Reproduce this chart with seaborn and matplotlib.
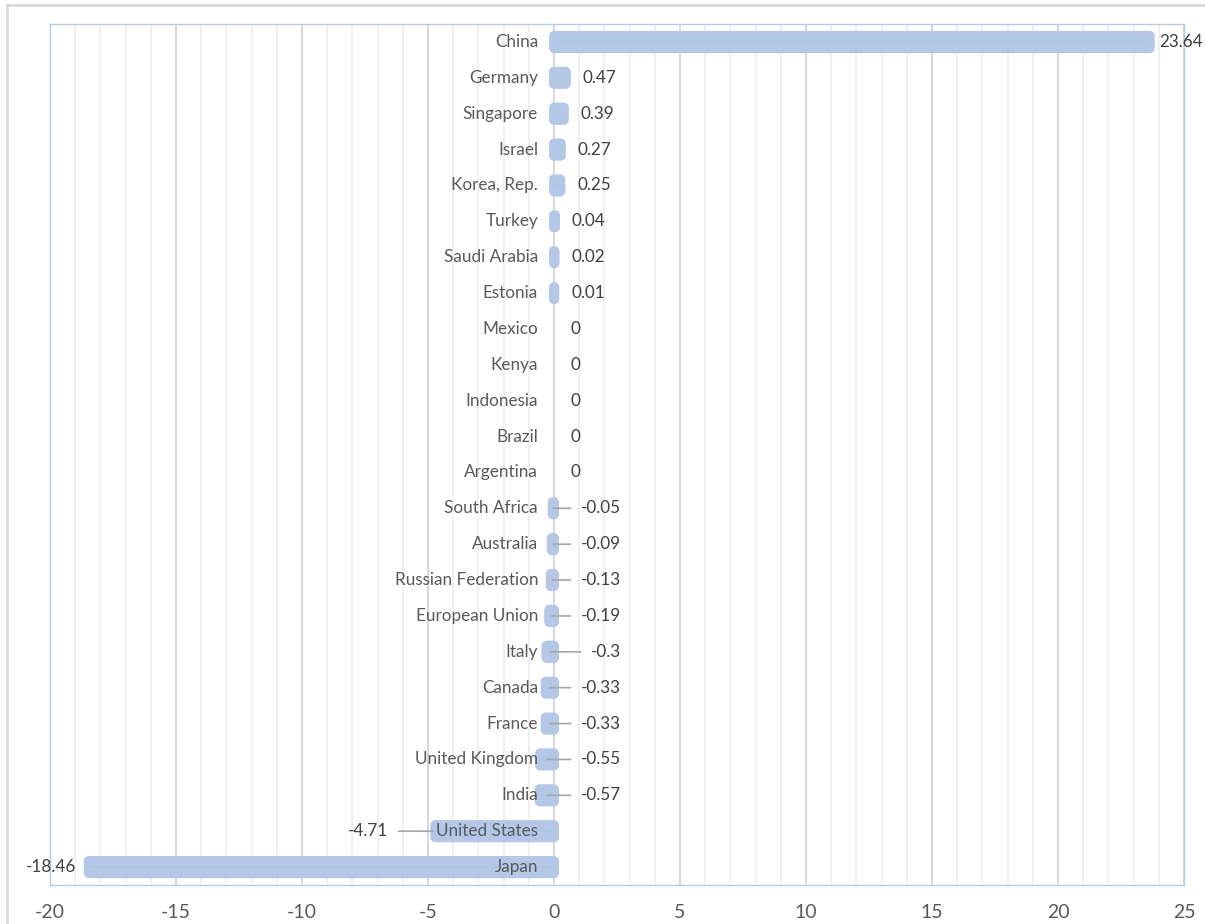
import numpy as np
import pandas as pd
import seaborn as sns
import matplotlib.pyplot as plt
from matplotlib.patches import Rectangle

sns.set_style("white")
plt.rcParams['font.family'] = ['Lato', 'DejaVu Sans']
plt.rcParams['axes.unicode_minus'] = False

countries = ["China", "Germany", "Singapore", "Israel", "Korea, Rep.", "Turkey",
             "Saudi Arabia", "Estonia", "Mexico", "Kenya", "Indonesia", "Brazil",
             "Argentina", "South Africa", "Australia", "Russian Federation",
             "European Union", "Italy", "Canada", "France", "United Kingdom",
             "India", "United States", "Japan"]
values = [23.64, 0.47, 0.39, 0.27, 0.25, 0.04, 0.02, 0.01, 0, 0, 0, 0, 0,
          -0.05, -0.09, -0.13, -0.19, -0.3, -0.33, -0.33, -0.55, -0.57,
          -4.71, -18.46]
value_labels = ["23.64", "0.47", "0.39", "0.27", "0.25", "0.04", "0.02", "0.01",
                "0", "0", "0", "0", "0", "-0.05", "-0.09", "-0.13", "-0.19",
                "-0.3", "-0.33", "-0.33", "-0.55", "-0.57", "-4.71", "-18.46"]

df = pd.DataFrame({"country": countries, "value": values})

bar_color = "#b4c7e7"
text_color = "#404040"
fs = 12.3

fig = plt.figure(figsize=(12.05, 9.24), dpi=100)
ax = fig.add_axes([50 / 1205, 1 - 885 / 924, 1134 / 1205, 861 / 924])

sns.barplot(data=df, x="value", y="country", orient="h", ax=ax,
            color=bar_color, saturation=1, width=0.34, zorder=2)

# rounded look: thick edge with round joins
for patch, v in zip(ax.patches, values):
    patch.set_edgecolor(bar_color)
    patch.set_joinstyle("round")
    patch.set_snap(False)
    patch.set_linewidth(7.2 if v != 0 else 0)

# faint centre line inside the bars
idx = np.arange(len(values))
nz = np.array(values) != 0
ax.hlines(idx[nz], 0, np.array(values)[nz], color="#a9c6ea", lw=1.2, zorder=3)

ax.set_xlim(-20, 25)
ax.set_ylim(len(values) - 0.5, -0.5)
ax.set_xticks(range(-20, 26, 5))
ax.set_xticks(range(-20, 26, 1), minor=True)
ax.grid(which="major", axis="x", color="#d9d9d9", lw=1.5)
ax.grid(which="minor", axis="x", color="#f0f0f0", lw=1.5)
ax.grid(False, axis="y")
ax.set_axisbelow(True)
ax.set_yticks([])
ax.set_xlabel("")
ax.set_ylabel("")
ax.tick_params(axis="x", which="both", length=0, labelsize=14,
               colors="#595959", pad=14)
for s in ax.spines.values():
    s.set_color("#b4cce6")
    s.set_linewidth(1)

px = 1134 / 45  # pixels per data unit

for i, (c, v, lab) in enumerate(zip(countries, values, value_labels)):
    # category label next to zero line
    ax.annotate(c, xy=(0, i), xytext=(-11.5, 0), textcoords="offset points",
                ha="right", va="center", fontsize=fs, color="#595959", zorder=5)
    if v >= 0:
        off = 12.2 if v < 20 else 7
        ax.annotate(lab, xy=(v, i), xytext=(off, 0), textcoords="offset points",
                    ha="left", va="center", fontsize=fs, color=text_color,
                    annotation_clip=False)
    elif v > -1:
        ax.annotate(lab, xy=(v / 2, i), xytext=(67 / px, i), textcoords="data",
                    ha="right", va="center", fontsize=fs, color=text_color,
                    arrowprops=dict(arrowstyle="-", color="#a6a6a6", lw=1.2,
                                    relpos=(0, 0.5), shrinkA=5, shrinkB=0))
    elif v > -10:
        ax.annotate(lab, xy=(v, i), xytext=(v - 47 / px, i), textcoords="data",
                    ha="right", va="center", fontsize=fs, color=text_color,
                    arrowprops=dict(arrowstyle="-", color="#a6a6a6", lw=1.2,
                                    relpos=(1, 0.5), shrinkA=5, shrinkB=2))
    else:
        ax.annotate(lab, xy=(v, i), xytext=(-9, 0), textcoords="offset points",
                    ha="right", va="center", fontsize=fs, color=text_color,
                    annotation_clip=False)

# outer chart border
fig.patches.append(Rectangle((7 / 1205, -0.1), 1.2, 1 - 5 / 924 + 0.1,
                             transform=fig.transFigure, fill=False,
                             ec="#d9d9d9", lw=2))

fig.savefig("out.png", dpi=100)
